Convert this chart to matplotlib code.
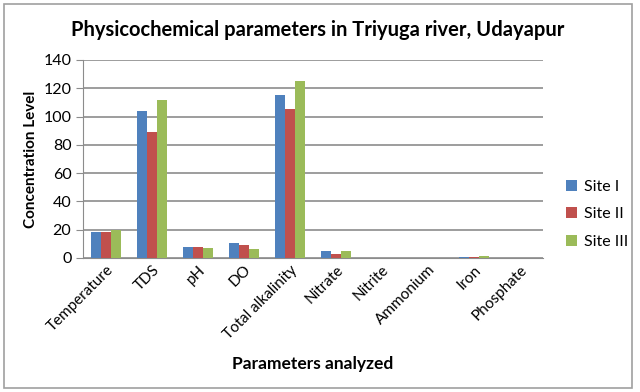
import matplotlib.pyplot as plt
import numpy as np
from matplotlib.patches import Rectangle

plt.rcParams['font.family'] = ['Lato', 'DejaVu Sans']

# Parameters analyzed, three sampling sites
params = ['Temperature', 'TDS', 'pH', 'DO', 'Total alkalinity', 'Nitrate',
          'Nitrite', 'Ammonium', 'Iron', 'Phosphate']
site1 = [18, 104, 7.5, 10.3, 115, 4.7, 0.05, 0.05, 0.5, 0.05]
site2 = [18, 89, 7.5, 9.4, 105, 2.8, 0.05, 0.05, 0.5, 0.05]
site3 = [20, 112, 7, 6.1, 125, 4.7, 0.05, 0.05, 1.2, 0.05]
sites = ['Site I', 'Site II', 'Site III']
colors = ['#4F81BD', '#C0504D', '#9BBB59']

fig = plt.figure(figsize=(6.4, 3.92), dpi=100)
ax = fig.add_axes([0.13, 0.342, 0.718, 0.505])

x = np.arange(len(params))
w = 0.217
for i, (vals, lab, c) in enumerate(zip([site1, site2, site3], sites, colors)):
    ax.bar(x + (i - 1) * w, vals, w, color=c, label=lab, zorder=3)

ax.set_ylim(0, 140)
ax.set_xlim(-0.5, len(params) - 0.5)
ax.set_yticks(range(0, 141, 20))
ax.yaxis.grid(True, color='#8c8c8c', linewidth=1.2, zorder=0)
for s in ['top', 'right']:
    ax.spines[s].set_visible(False)
ax.spines['left'].set_color('#8c8c8c')
ax.spines['bottom'].set_color('#8c8c8c')
ax.tick_params(axis='y', length=5, color='#8c8c8c', labelsize=11.5)
ax.tick_params(axis='x', length=0, labelsize=11)
ax.set_xticks(x)
ax.set_xticklabels(params, rotation=45, ha='right', rotation_mode='anchor')

ax.set_ylabel('Concentration Level', fontsize=11, fontweight='bold')
ax.set_xlabel('Parameters analyzed', fontsize=12.5, fontweight='bold', labelpad=10)
fig.text(0.497, 0.923, 'Physicochemical parameters in Triyuga river, Udayapur',
         ha='center', va='center', fontsize=14.5, fontweight='bold')

ax.legend(loc='center left', bbox_to_anchor=(1.02, 0.22), frameon=False,
          fontsize=11.5, handlelength=0.7, handleheight=0.7, labelspacing=0.85,
          handletextpad=0.4)

fig.patches.append(Rectangle((0.006, 0.01), 0.982, 0.98, transform=fig.transFigure,
                             fill=False, edgecolor='#a0a0a0', linewidth=1.2))

fig.savefig('out.png', dpi=100)
